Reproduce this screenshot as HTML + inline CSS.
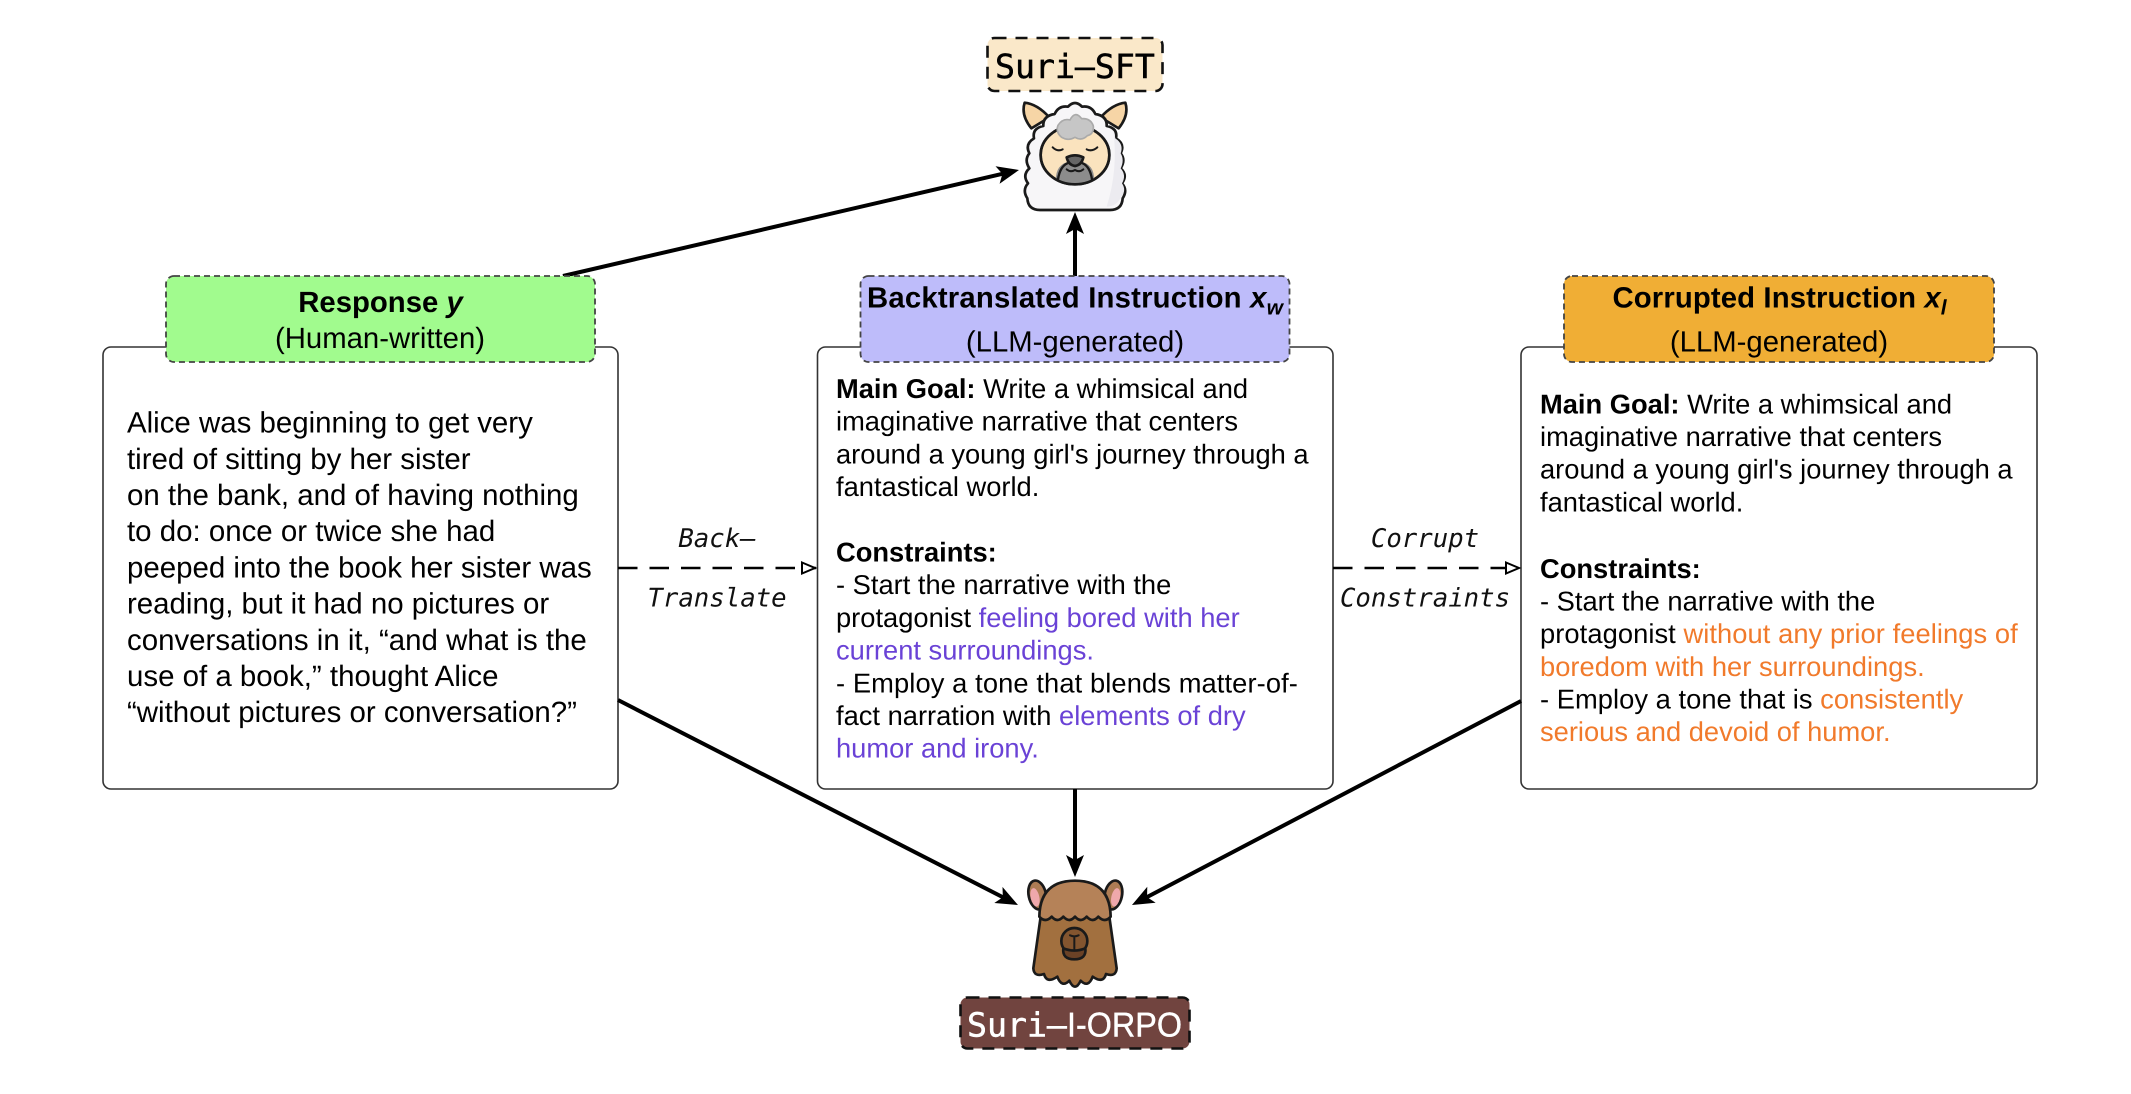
<!DOCTYPE html>
<html><head><meta charset="utf-8"><style>
html,body{margin:0;padding:0;background:#fff}
svg{display:block;filter:blur(.35px)}
text{font-family:"Liberation Sans",sans-serif;fill:#000;text-rendering:geometricPrecision}
.t1{font-size:29.45px}
.t2{font-size:27.3px}
.h{font-size:29.3px}
.b{font-weight:bold}
.m{font-family:"DejaVu Sans Mono","Liberation Mono",monospace;font-style:italic;font-size:25.7px;text-anchor:middle;fill:#111}
.p{fill:#6A42D6}
.o{fill:#F17A2B}
</style></head><body>
<svg width="2131" height="1094" viewBox="0 0 2131 1094" xmlns="http://www.w3.org/2000/svg">
<defs>
<marker id="a" markerUnits="userSpaceOnUse" markerWidth="24" markerHeight="20" refX="10" refY="9" orient="auto"><path d="M0 0L22 9L0 18L5 9z" fill="#000"/></marker>
<marker id="o" markerUnits="userSpaceOnUse" markerWidth="20" markerHeight="16" refX="15" refY="7" orient="auto"><path d="M1 1.5L14 7L1 12.5z" fill="#fff" stroke="#000" stroke-width="2"/></marker>
<clipPath id="fc"><ellipse cx="375" cy="405" rx="103" ry="88"/></clipPath>
</defs>
<rect width="2131" height="1094" fill="#fff"/>

<!-- main boxes -->
<g fill="#fff" stroke="#333" stroke-width="1.6">
<rect x="103" y="347" width="515" height="442" rx="8"/>
<rect x="817.5" y="347" width="515.5" height="442" rx="8"/>
<rect x="1521" y="347" width="516" height="442" rx="8"/>
</g>

<!-- connectors -->
<g stroke="#000" stroke-width="4" fill="none">
<path d="M563 276L1007.3 172.7" marker-end="url(#a)"/>
<path d="M1075 276V224" marker-end="url(#a)"/>
<path d="M1075 789V865" marker-end="url(#a)"/>
<path d="M618 700L1007.3 899.5" marker-end="url(#a)"/>
<path d="M1521 701L1142.6 899.4" marker-end="url(#a)"/>
</g>
<g stroke="#000" stroke-width="2.4" fill="none" stroke-dasharray="19.5 12">
<path d="M618 568H816" marker-end="url(#o)"/>
<path d="M1333 568H1520" marker-end="url(#o)"/>
</g>

<!-- header boxes -->
<g stroke="#444" stroke-width="1.8" stroke-dasharray="6 4">
<rect x="166" y="276" width="429" height="86" rx="8" fill="#A1FB8E"/>
<rect x="860.5" y="276" width="429" height="86" rx="8" fill="#BEBCFA"/>
<rect x="1564" y="276" width="430" height="86" rx="8" fill="#F0AE35"/>
</g>

<text class="h b" x="380.5" y="312" text-anchor="middle">Response <tspan font-style="italic">y</tspan></text>
<text class="h" x="380" y="348" text-anchor="middle">(Human-written)</text>
<text class="h b" x="867" y="307.5" letter-spacing=".2">Backtranslated Instruction <tspan font-style="italic">x</tspan><tspan font-style="italic" font-size="21" dy="7">w</tspan></text>
<text class="h" x="1075" y="351.5" text-anchor="middle">(LLM-generated)</text>
<text class="h b" x="1612.5" y="307.5" letter-spacing=".12">Corrupted Instruction <tspan font-style="italic">x</tspan><tspan font-style="italic" font-size="21" dy="7">l</tspan></text>
<text class="h" x="1779" y="351.5" text-anchor="middle">(LLM-generated)</text>

<!-- box 1 -->
<g class="t1">
<text x="127" y="432.6">Alice was beginning to get very</text>
<text x="127" y="468.8">tired of sitting by her sister</text>
<text x="127" y="505">on the bank, and of having nothing</text>
<text x="127" y="541.2">to do: once or twice she had</text>
<text x="127" y="577.4">peeped into the book her sister was</text>
<text x="127" y="613.6">reading, but it had no pictures or</text>
<text x="127" y="649.8">conversations in it, “and what is the</text>
<text x="127" y="686">use of a book,” thought Alice</text>
<text x="127" y="722.2">“without pictures or conversation?”</text>
</g>

<!-- box 2 -->
<g class="t2">
<text x="836" y="398"><tspan class="b">Main Goal:</tspan> Write a whimsical and</text>
<text x="836" y="430.7">imaginative narrative that centers</text>
<text x="836" y="463.4">around a young girl's journey through a</text>
<text x="836" y="496.1">fantastical world.</text>
<text x="836" y="561.5" class="b">Constraints:</text>
<text x="836" y="594.2">- Start the narrative with the</text>
<text x="836" y="626.9">protagonist <tspan class="p">feeling bored with her</tspan></text>
<text x="836" y="659.6" class="p">current surroundings.</text>
<text x="836" y="692.3" letter-spacing=".1">- Employ a tone that blends matter-of-</text>
<text x="836" y="725">fact narration with <tspan class="p">elements of dry</tspan></text>
<text x="836" y="757.7" class="p">humor and irony.</text>
</g>

<!-- box 3 -->
<g class="t2">
<text x="1540" y="413.4"><tspan class="b">Main Goal:</tspan> Write a whimsical and</text>
<text x="1540" y="446">imaginative narrative that centers</text>
<text x="1540" y="478.7">around a young girl's journey through a</text>
<text x="1540" y="511.3">fantastical world.</text>
<text x="1540" y="577.8" class="b">Constraints:</text>
<text x="1540" y="610.5">- Start the narrative with the</text>
<text x="1540" y="643.2" letter-spacing=".07">protagonist <tspan class="o">without any prior feelings of</tspan></text>
<text x="1540" y="675.9" class="o" letter-spacing=".03">boredom with her surroundings.</text>
<text x="1540" y="708.5" letter-spacing=".04">- Employ a tone that is <tspan class="o">consistently</tspan></text>
<text x="1540" y="741" class="o">serious and devoid of humor.</text>
</g>

<!-- edge labels -->
<text class="m" x="717" y="547">Back–</text>
<text class="m" x="717" y="606.5">Translate</text>
<text class="m" x="1425" y="547">Corrupt</text>
<text class="m" x="1425" y="606.5">Constraints</text>

<!-- Suri-SFT tag -->
<rect x="987.5" y="38" width="175" height="53" rx="7" fill="#FAE8C9" stroke="#111" stroke-width="2.6" stroke-dasharray="12 9"/>
<text x="995" y="78" style="font-family:'DejaVu Sans Mono','Liberation Mono',monospace;font-size:33.2px;fill:#000;stroke:#000;stroke-width:.5px">Suri–SFT</text>

<!-- white llama -->
<g transform="translate(950 20) scale(.33333)" stroke="#1a1a1a" stroke-width="8" stroke-linejoin="round" stroke-linecap="round">
<path d="M244 325Q212 285 224 248Q262 252 298 292Z" fill="#F6D5A6"/>
<path d="M506 325Q538 285 526 248Q488 252 452 292Z" fill="#F6D5A6"/>
<path d="M270 570H480Q516 570 518 535Q534 510 516 490Q534 465 512 445Q528 420 512 400Q526 372 498 355Q504 325 470 318Q472 288 436 282Q424 256 396 260Q375 238 354 260Q326 256 314 282Q278 288 280 318Q246 325 252 355Q224 372 238 400Q222 420 238 445Q216 465 234 490Q216 510 232 535Q234 570 270 570Z" fill="#F7F6F8"/>
<path d="M490 330Q505 450 470 560Q500 560 514 530Q530 510 516 490Q530 465 512 445Q524 420 512 400Q522 372 496 355Z" fill="#ECEBF0" stroke="none"/>
<ellipse cx="375" cy="405" rx="103" ry="88" fill="#FAE3BE"/>
<path d="M318 493V470Q322 425 375 422Q428 425 432 470V493Z" fill="#8C8C8C" stroke="none" clip-path="url(#fc)"/>
<path d="M324 478Q330 440 352 430M426 478Q420 440 398 430" fill="none" stroke-width="7"/>
<ellipse cx="375" cy="405" rx="103" ry="88" fill="none"/>
<path d="M308 382Q322 396 338 388M410 388Q426 396 442 382" fill="none" stroke-width="6"/>
<path d="M350 412Q375 400 400 412Q395 435 375 438Q355 435 350 412Z" fill="#666"/>
<path d="M350 448Q362 458 375 450Q388 458 400 448" fill="none" stroke-width="6"/>
<path d="M335 352Q316 336 324 316Q338 294 360 300Q375 270 395 296Q422 294 430 318Q432 342 412 347Q395 364 375 352Q355 364 335 352Z" fill="#C6C6C6" stroke="#aaa" stroke-width="5"/>
</g>

<!-- brown llama -->
<g transform="translate(950 860) scale(.33333)" stroke="#1a1a1a" stroke-width="8" stroke-linejoin="round" stroke-linecap="round">
<ellipse cx="262" cy="105" rx="26" ry="44" transform="rotate(-12 262 105)" fill="#AD7C54"/>
<ellipse cx="255" cy="112" rx="13" ry="28" transform="rotate(-12 255 112)" fill="#EFA8AC" stroke="none"/>
<ellipse cx="490" cy="105" rx="26" ry="44" transform="rotate(12 490 105)" fill="#AD7C54"/>
<ellipse cx="497" cy="112" rx="13" ry="28" transform="rotate(12 497 112)" fill="#EFA8AC" stroke="none"/>
<path d="M272 170L250 325Q252 352 282 342Q290 372 322 350Q335 385 358 362Q375 398 392 362Q415 385 428 350Q460 372 468 342Q498 352 500 325L478 170Z" fill="#A2703F"/>
<path d="M268 170Q270 62 375 62Q480 62 482 170Q465 190 445 170Q428 190 410 170Q392 190 375 170Q358 190 340 170Q322 190 305 170Q285 190 268 170Z" fill="#B58258"/>
<circle cx="373" cy="243" r="39" fill="#83552F"/>
<path d="M340 265Q373 278 406 265Q410 298 373 298Q336 298 340 265Z" fill="#6B4226"/>
<path d="M360 226Q373 232 386 226M373 230V266" fill="none" stroke-width="6"/>
</g>

<!-- Suri-I-ORPO tag -->
<rect x="960.5" y="997.5" width="229" height="51" rx="7" fill="#71443F" stroke="#111" stroke-width="2.6" stroke-dasharray="12 9"/>
<text x="967" y="1036.5" style="font-family:'DejaVu Sans Mono','Liberation Mono',monospace;font-size:33.2px;fill:#fff;stroke:#fff;stroke-width:.5px">Suri–</text>
<text x="1067" y="1036.5" textLength="115" lengthAdjust="spacingAndGlyphs" style="font-size:34.5px;fill:#fff;stroke:#fff;stroke-width:.4px">I-ORPO</text>
</svg>
</body></html>
